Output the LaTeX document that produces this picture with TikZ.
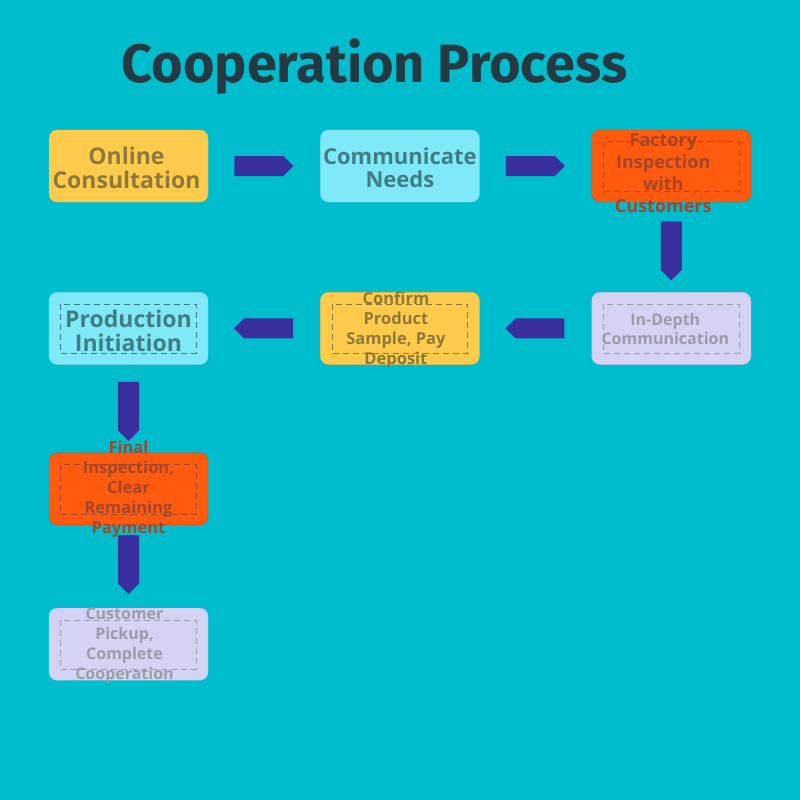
\documentclass[tikz,border=0pt]{standalone}
\usepackage{fontspec}
\setmainfont{Open Sans}
\newfontfamily\titlefont{Fira Sans}
\usepackage{tikz}
\usetikzlibrary{positioning,calc,shapes.symbols}
\definecolor{bgteal}{RGB}{0,189,206}
\definecolor{titleink}{RGB}{35,58,66}
\definecolor{flowblue}{RGB}{58,47,158}
\definecolor{sunfill}{RGB}{255,203,76}
\definecolor{sunink}{RGB}{140,122,60}
\definecolor{skyfill}{RGB}{128,233,247}
\definecolor{skyink}{RGB}{63,126,134}
\definecolor{firefill}{RGB}{255,90,14}
\definecolor{fireink}{RGB}{163,71,42}
\definecolor{lilacfill}{RGB}{213,211,244}
\definecolor{lilacink}{RGB}{156,155,168}
\tikzstyle{stage}=[rectangle,rounded corners=8pt,minimum width=159pt,minimum height=72pt,inner sep=0pt,line width=0.4pt]
\tikzstyle{caption}=[align=center,font=\bfseries\fontsize{16}{20}\selectfont]
\tikzstyle{bigcaption}=[align=center,font=\bfseries\fontsize{23}{24}\selectfont]
\tikzstyle{flow}=[signal,fill=flowblue,draw=none,inner sep=0pt]
\tikzstyle{hflow}=[flow,minimum width=59pt,minimum height=20pt]
\tikzstyle{vflow}=[flow,minimum width=21pt,minimum height=48.5pt,signal to=south,anchor=north]
\tikzstyle{frame}=[dash pattern=on 6pt off 4pt,line width=0.8pt]

\begin{document}
\begin{tikzpicture}[x=1pt,y=-1pt]
\fill[bgteal] (0,0) rectangle (800,800);
\useasboundingbox (0,0) rectangle (800,800);
\node[font=\titlefont\bfseries\fontsize{54}{58}\selectfont,text=titleink] (title) at (374.5,67) {Cooperation Process};

% the stages
\node [stage,fill=sunfill,draw=sunfill!92!black] (online) at (128.5,166) {};
\node [stage,fill=skyfill,draw=skyfill!92!black,right=112pt of online] (needs) {};
\node [stage,fill=firefill,draw=firefill!85!black,right=112pt of needs] (factory) {};
\node [stage,fill=lilacfill,draw=lilacfill!92!black,below=90pt of factory] (depth) {};
\node [stage,fill=sunfill,draw=sunfill!92!black,below=90pt of needs] (sample) {};
\node [stage,fill=skyfill,draw=skyfill!92!black,below=90pt of online] (start) {};
\node [stage,fill=firefill,draw=firefill!85!black,below=88pt of start] (final) {};
\node [stage,fill=lilacfill,draw=lilacfill!92!black,below=83pt of final] (pickup) {};

\foreach \n/\c in {factory/fireink,depth/lilacink,sample/sunink,start/skyink,final/fireink,pickup/lilacink}
  \draw[\c,frame] ($(\n.north west)+(12,12)$) rectangle ($(\n.south east)+(-12,-11)$);

% the arrows
\node [hflow,anchor=west] (a1) at ($(online.east)+(26,0)$) {};
\node [hflow,anchor=west] (a2) at ($(needs.east)+(26,0)$) {};
\node [vflow] (a3) at ($(factory.south)+(0,19)$) {};
\node [hflow,signal to=west,anchor=east] (a4) at ($(depth.west)+(-27,0)$) {};
\node [hflow,signal to=west,anchor=east] (a5) at ($(sample.west)+(-27,0)$) {};
\node [vflow] (a6) at ($(start.south)+(0,17)$) {};
\node [vflow] (a7) at ($(final.south)+(0,10)$) {};

% the texts
\node [bigcaption,text=sunink] (t1) at ($(online)+(-2,2)$) {Online\\Consultation};
\node [bigcaption,text=skyink,font=\bfseries\fontsize{22}{23}\selectfont] (t2) at ($(needs)+(0,2)$) {Communicate\\Needs};
\node [caption,text=fireink,font=\bfseries\fontsize{18}{22}\selectfont] (t3) at ($(factory)+(-8,7)$) {Factory\\Inspection\\with\\Customers};
\node [caption,text=lilacink,font=\bfseries\fontsize{16}{19}\selectfont] (t4) at ($(depth)+(-6,1)$) {In-Depth\\Communication};
\node [caption,text=sunink,font=\bfseries\fontsize{16.5}{20}\selectfont] (t5) at ($(sample)+(-4,2)$) {Confirm\\Product\\Sample, Pay\\Deposit};
\node [bigcaption,text=skyink] (t6) at ($(start)+(0,2)$) {Production\\Initiation};
\node [caption,text=fireink,font=\bfseries\fontsize{16.5}{20}\selectfont] (t7) at (final) {Final\\Inspection,\\Clear\\Remaining\\Payment};
\node [caption,text=lilacink] (t8) at ($(pickup)+(-4,1)$) {Customer\\Pickup,\\Complete\\Cooperation};
\end{tikzpicture}
\end{document}
